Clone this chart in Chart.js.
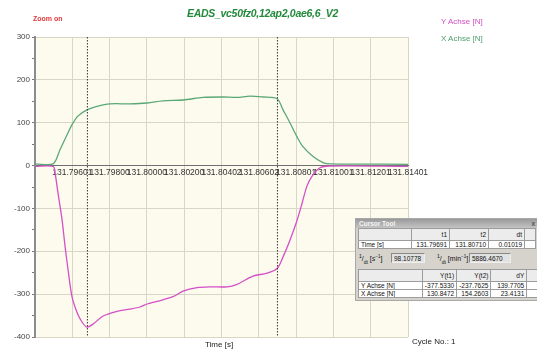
<!DOCTYPE html>
<html>
<head>
<meta charset="utf-8">
<script src="https://cdn.jsdelivr.net/npm/chart.js@4/dist/chart.umd.min.js"></script>
<style>
    body { margin: 0; width: 537px; height: 355px; overflow: hidden; background: #fff; font-family: "Liberation Sans", Arial, sans-serif; position: relative; }
    canvas { position: absolute; left: 0; top: 0; }
    .txt { position: absolute; white-space: nowrap; }
    #title { left: 187px; top: 7px; font: italic bold 10.5px "Liberation Sans", Arial, sans-serif; letter-spacing: -0.3px; color: #23893b; }
    #zoom { left: 33px; top: 15px; font-size: 7px; font-weight: bold; color: #e0383c; }
    #legY { left: 441px; top: 17px; font-size: 8px; color: #d14fc4; }
    #legX { left: 441px; top: 34px; font-size: 8px; color: #4ea06c; }
    #timeLbl { left: 205px; top: 340px; font-size: 8px; color: #222; }
    #cycle { left: 412px; top: 337px; font-size: 8px; color: #222; }

    #cursor { position: absolute; left: 355px; top: 218px; width: 184px; height: 83px; background: #d6d3cc; border: 1px solid #a8a8a8; box-sizing: border-box; font-size: 6.5px; color: #111; }
    #cursor .bar { height: 9px; background: linear-gradient(#9a9a9a, #c4c4c4); color: #f4f4f4; font-weight: bold; font-size: 6.5px; line-height: 9px; padding-left: 3px; position: relative; }
    #cursor .bar span { position: absolute; right: 3px; top: 0; color: #555; }
    #cursor table { position: absolute; left: 2px; border-collapse: collapse; table-layout: fixed; background: #fff; }
    #cursor td { border: 1px solid #9c9c9c; padding: 0 2px; text-align: right; overflow: hidden; white-space: nowrap; }
    #cursor td.l { text-align: left; }
    #cursor tr.h td { background: #ececec; height: 11px; }
    #cursor tr.r td { height: 7px; line-height: 7px; }
    #cursor .mid { position: absolute; top: 34px; font-size: 7px; }
    #cursor .box { position: absolute; top: 34px; height: 10px; line-height: 10px; background: #e2e2e2; border: 1px solid #888; border-right-color: #eee; border-bottom-color: #eee; padding-left: 2px; box-sizing: border-box; }
</style>
</head>
<body>
<canvas id="chart" width="537" height="355"></canvas>

<div class="txt" id="title">EADS_vc50fz0,12ap2,0ae6,6_V2</div>
<div class="txt" id="zoom">Zoom on</div>
<div class="txt" id="legY">Y Achse [N]</div>
<div class="txt" id="legX">X Achse [N]</div>
<div class="txt" id="timeLbl">Time [s]</div>
<div class="txt" id="cycle">Cycle No.: 1</div>

<div id="cursor">
    <div class="bar">Cursor Tool<span>x</span></div>
    <table style="top:9px">
        <colgroup><col style="width:53px"><col style="width:38px"><col style="width:39px"><col style="width:36px"><col style="width:11px"></colgroup>
        <tr class="h"><td></td><td>t1</td><td>t2</td><td>dt</td><td></td></tr>
        <tr class="r"><td class="l">Time [s]</td><td>131.79691</td><td>131.80710</td><td>0.01019</td><td></td></tr>
    </table>
    <div class="mid" style="left:3px"><sup style="font-size:5px">1</sup>/<sub style="font-size:5px">dt</sub> [<i>s</i><sup style="font-size:4.5px">−1</sup>]</div>
    <div class="box" style="left:35px;width:34px">98.10778</div>
    <div class="mid" style="left:81px"><sup style="font-size:5px">1</sup>/<sub style="font-size:5px">dt</sub> [min<sup style="font-size:4.5px">−1</sup>]</div>
    <div class="box" style="left:113px;width:42px">5886.4670</div>
    <table style="top:50px">
        <colgroup><col style="width:65px"><col style="width:31px"><col style="width:34px"><col style="width:36px"><col style="width:11px"></colgroup>
        <tr class="h"><td></td><td>Y(t1)</td><td>Y(t2)</td><td>dY</td><td></td></tr>
        <tr class="r"><td class="l">Y Achse [N]</td><td>-377.5330</td><td>-237.7625</td><td>139.7705</td><td></td></tr>
        <tr class="r"><td class="l">X Achse [N]</td><td>130.8472</td><td>154.2603</td><td>23.4131</td><td></td></tr>
    </table>
</div>

<script>
// data
const yTimes = [131.79410, 131.79507, 131.79517, 131.79533, 131.79555, 131.79571, 131.79587, 131.79608,
    131.79635, 131.79662, 131.79689, 131.79721, 131.79775, 131.79850, 131.79919, 131.79973, 131.80011,
    131.80064, 131.80150, 131.80204, 131.80279, 131.80348, 131.80440, 131.80493, 131.80579, 131.80654,
    131.80708, 131.80740, 131.80777, 131.80815, 131.80842, 131.80868, 131.80895, 131.80938, 131.80992, 131.81410];
const yValues = [-2, -2, -16, -63, -126, -188, -242, -305,
    -342, -365, -377, -370, -351, -340, -335, -330, -323,
    -317, -306, -293, -285, -283, -283, -277, -258, -251,
    -240, -213, -174, -128, -88, -48, -25, -5, -1, -2];

const xTimes = [131.79410, 131.79507, 131.79544, 131.79582, 131.79608, 131.79641, 131.79689, 131.79742,
    131.79812, 131.79919, 131.80011, 131.80096, 131.80204, 131.80311, 131.80418, 131.80493, 131.80563,
    131.80633, 131.80708, 131.80740, 131.80777, 131.80815, 131.80847, 131.80901, 131.80954, 131.80992, 131.81410];
const xValues = [4, 4, 37, 72, 95, 116, 130, 138,
    144, 144, 146, 151, 153, 159, 160, 159, 162,
    160, 156, 130, 100, 67, 44, 21, 7, 4, 3];

const cursorTimes = [131.79691, 131.80710];

const tickTimes = [131.7941, 131.7961, 131.7981, 131.8001, 131.8021, 131.8041, 131.8061, 131.8081, 131.8101, 131.8121, 131.8141];
const tickLabels = ["131.79601", "131.79800", "131.80000", "131.80200", "131.80402", "131.80602", "131.80801", "131.81001", "131.81201", "131.81401"];

const toPoints = (times, values) => times.map((t, i) => ({ x: t, y: values[i] }));

// plot background
const plotBg = {
    id: "plotBg",
    beforeDraw: (chart) => {
        const { ctx, chartArea: a } = chart;
        ctx.save();
        ctx.fillStyle = "#fdfbee";
        ctx.fillRect(a.left, a.top, a.right - a.left, a.bottom - a.top);
        ctx.restore();
    },
};

const cursorSets = cursorTimes.map((t) => ({
    data: [{ x: t, y: 300 }, { x: t, y: -400 }],
    borderColor: "#333",
    borderWidth: 1,
    borderDash: [1.5, 1.5],
    pointRadius: 0,
}));

new Chart(document.getElementById("chart"), {
    type: "line",
    data: {
        datasets: [
            ...cursorSets,
            {
                label: "Y Achse [N]",
                data: toPoints(yTimes, yValues),
                borderColor: "#d450c6",
                borderWidth: 1.3,
                pointRadius: 0,
                tension: 0.3,
            },
            {
                label: "X Achse [N]",
                data: toPoints(xTimes, xValues),
                borderColor: "#5aa876",
                borderWidth: 1.3,
                pointRadius: 0,
                tension: 0.3,
            },
        ],
    },
    options: {
        responsive: false,
        animation: false,
        layout: { padding: { top: 37, right: 129, bottom: 18, left: 0 } },
        plugins: { legend: { display: false }, tooltip: { enabled: false } },
        scales: {
            x: {
                type: "linear",
                min: tickTimes[0],
                max: tickTimes[tickTimes.length - 1],
                position: { y: 0 },
                afterBuildTicks: (scale) => {
                    scale.ticks = tickTimes.map((v) => ({ value: v }));
                },
                ticks: {
                    autoSkip: false,
                    maxRotation: 0,
                    padding: 2,
                    color: "#333",
                    font: { family: "Liberation Sans", size: 8.5 },
                    callback: (v, i) => (i === 0 ? "" : tickLabels[i - 1]),
                },
                grid: { color: "#d8d7c6", tickLength: 0 },
                border: { color: "#6f6f6f", width: 1 },
            },
            y: {
                min: -400,
                max: 300,
                afterFit: (scale) => {
                    scale.width = 35;
                },
                ticks: {
                    stepSize: 50,
                    padding: 2,
                    color: "#444",
                    font: { family: "Liberation Sans", size: 8 },
                    callback: (v) => (v % 100 === 0 ? v : ""),
                },
                grid: {
                    tickLength: 3,
                    color: (c) => (c.tick && c.tick.value % 100 === 0 ? "#d8d7c6" : "rgba(0,0,0,0)"),
                    tickColor: "#777",
                },
                border: { color: "#8c8c8c", width: 2 },
            },
        },
    },
    plugins: [plotBg],
});
</script>
</body>
</html>
